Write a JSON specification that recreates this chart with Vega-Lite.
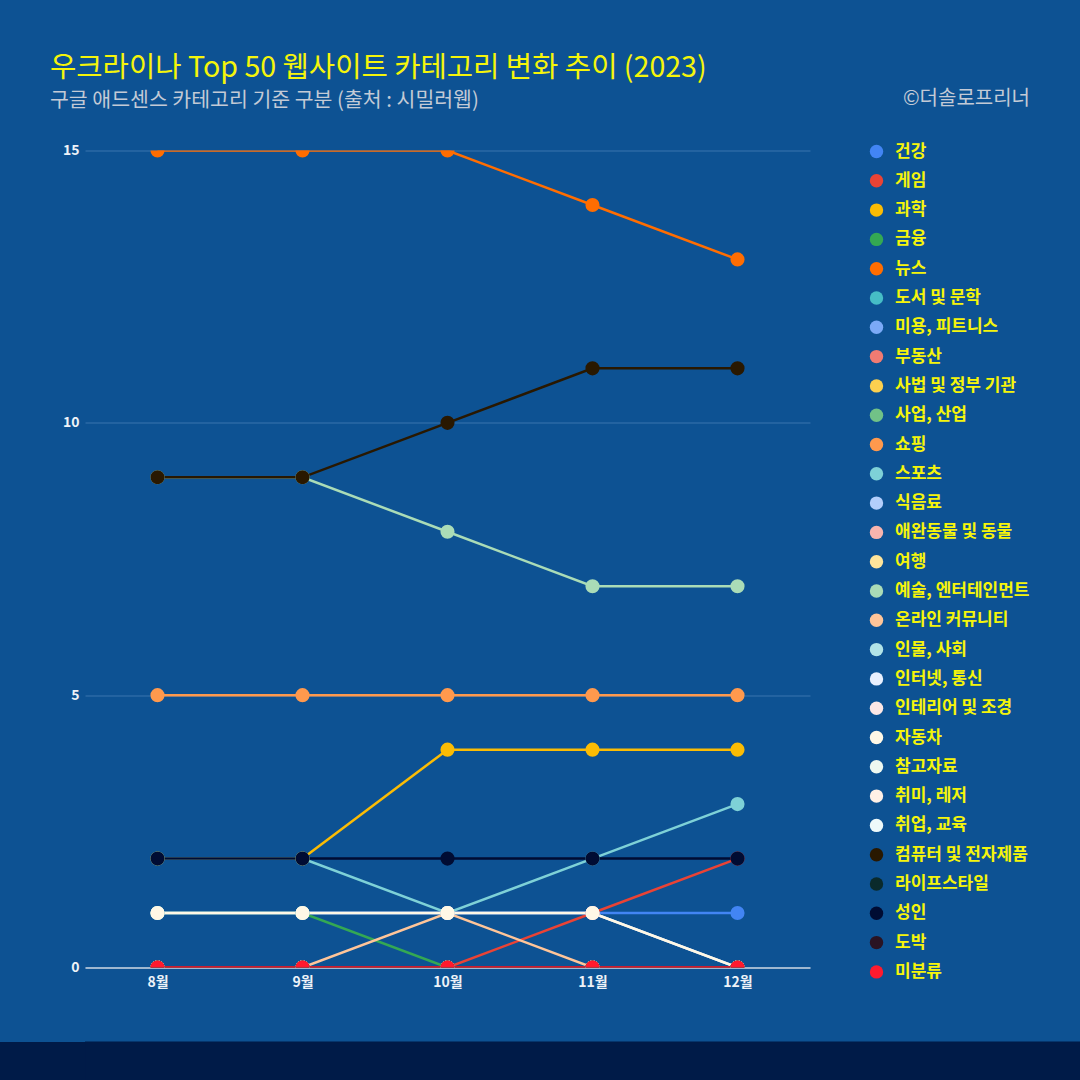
{
  "$schema": "https://vega.github.io/schema/vega-lite/v6.json",
  "background": "#0d5293",
  "padding": {"left": 0, "right": 0, "top": 53.5, "bottom": 0},
  "title": {
    "text": "우크라이나 Top 50 웹사이트 카테고리 변화 추이 (2023)",
    "subtitle": "구글 애드센스 카테고리 기준 구분 (출처 : 시밀러웹)",
    "anchor": "start",
    "frame": "bounds",
    "dx": 50,
    "offset": -22.5,
    "color": "#f5f50a",
    "font": "Noto Sans CJK KR",
    "fontSize": 28.6,
    "fontWeight": "normal",
    "subtitleColor": "#c3cad6",
    "subtitleFont": "Noto Sans CJK KR",
    "subtitleFontSize": 20.5,
    "subtitlePadding": 8
  },
  "columns": 1,
  "align": "none",
  "spacing": 49,
  "data": {"values": [
    {"cat": "건강", "month": "8월", "n": 1}, {"cat": "건강", "month": "9월", "n": 1}, {"cat": "건강", "month": "10월", "n": 1}, {"cat": "건강", "month": "11월", "n": 1}, {"cat": "건강", "month": "12월", "n": 1},
    {"cat": "게임", "month": "8월", "n": 0}, {"cat": "게임", "month": "9월", "n": 0}, {"cat": "게임", "month": "10월", "n": 0}, {"cat": "게임", "month": "11월", "n": 1}, {"cat": "게임", "month": "12월", "n": 2},
    {"cat": "과학", "month": "8월", "n": 2}, {"cat": "과학", "month": "9월", "n": 2}, {"cat": "과학", "month": "10월", "n": 4}, {"cat": "과학", "month": "11월", "n": 4}, {"cat": "과학", "month": "12월", "n": 4},
    {"cat": "금융", "month": "8월", "n": 1}, {"cat": "금융", "month": "9월", "n": 1}, {"cat": "금융", "month": "10월", "n": 0}, {"cat": "금융", "month": "11월", "n": 0}, {"cat": "금융", "month": "12월", "n": 0},
    {"cat": "뉴스", "month": "8월", "n": 15}, {"cat": "뉴스", "month": "9월", "n": 15}, {"cat": "뉴스", "month": "10월", "n": 15}, {"cat": "뉴스", "month": "11월", "n": 14}, {"cat": "뉴스", "month": "12월", "n": 13},
    {"cat": "도서 및 문학", "month": "8월", "n": 0}, {"cat": "도서 및 문학", "month": "9월", "n": 0}, {"cat": "도서 및 문학", "month": "10월", "n": 0}, {"cat": "도서 및 문학", "month": "11월", "n": 0}, {"cat": "도서 및 문학", "month": "12월", "n": 0},
    {"cat": "미용, 피트니스", "month": "8월", "n": 0}, {"cat": "미용, 피트니스", "month": "9월", "n": 0}, {"cat": "미용, 피트니스", "month": "10월", "n": 0}, {"cat": "미용, 피트니스", "month": "11월", "n": 0}, {"cat": "미용, 피트니스", "month": "12월", "n": 0},
    {"cat": "부동산", "month": "8월", "n": 0}, {"cat": "부동산", "month": "9월", "n": 0}, {"cat": "부동산", "month": "10월", "n": 0}, {"cat": "부동산", "month": "11월", "n": 0}, {"cat": "부동산", "month": "12월", "n": 0},
    {"cat": "사법 및 정부 기관", "month": "8월", "n": 0}, {"cat": "사법 및 정부 기관", "month": "9월", "n": 0}, {"cat": "사법 및 정부 기관", "month": "10월", "n": 0}, {"cat": "사법 및 정부 기관", "month": "11월", "n": 0}, {"cat": "사법 및 정부 기관", "month": "12월", "n": 0},
    {"cat": "사업, 산업", "month": "8월", "n": 0}, {"cat": "사업, 산업", "month": "9월", "n": 0}, {"cat": "사업, 산업", "month": "10월", "n": 0}, {"cat": "사업, 산업", "month": "11월", "n": 0}, {"cat": "사업, 산업", "month": "12월", "n": 0},
    {"cat": "쇼핑", "month": "8월", "n": 5}, {"cat": "쇼핑", "month": "9월", "n": 5}, {"cat": "쇼핑", "month": "10월", "n": 5}, {"cat": "쇼핑", "month": "11월", "n": 5}, {"cat": "쇼핑", "month": "12월", "n": 5},
    {"cat": "스포츠", "month": "8월", "n": 2}, {"cat": "스포츠", "month": "9월", "n": 2}, {"cat": "스포츠", "month": "10월", "n": 1}, {"cat": "스포츠", "month": "11월", "n": 2}, {"cat": "스포츠", "month": "12월", "n": 3},
    {"cat": "식음료", "month": "8월", "n": 0}, {"cat": "식음료", "month": "9월", "n": 0}, {"cat": "식음료", "month": "10월", "n": 0}, {"cat": "식음료", "month": "11월", "n": 0}, {"cat": "식음료", "month": "12월", "n": 0},
    {"cat": "애완동물 및 동물", "month": "8월", "n": 0}, {"cat": "애완동물 및 동물", "month": "9월", "n": 0}, {"cat": "애완동물 및 동물", "month": "10월", "n": 0}, {"cat": "애완동물 및 동물", "month": "11월", "n": 0}, {"cat": "애완동물 및 동물", "month": "12월", "n": 0},
    {"cat": "여행", "month": "8월", "n": 0}, {"cat": "여행", "month": "9월", "n": 0}, {"cat": "여행", "month": "10월", "n": 0}, {"cat": "여행", "month": "11월", "n": 0}, {"cat": "여행", "month": "12월", "n": 0},
    {"cat": "예술, 엔터테인먼트", "month": "8월", "n": 9}, {"cat": "예술, 엔터테인먼트", "month": "9월", "n": 9}, {"cat": "예술, 엔터테인먼트", "month": "10월", "n": 8}, {"cat": "예술, 엔터테인먼트", "month": "11월", "n": 7}, {"cat": "예술, 엔터테인먼트", "month": "12월", "n": 7},
    {"cat": "온라인 커뮤니티", "month": "8월", "n": 0}, {"cat": "온라인 커뮤니티", "month": "9월", "n": 0}, {"cat": "온라인 커뮤니티", "month": "10월", "n": 1}, {"cat": "온라인 커뮤니티", "month": "11월", "n": 0}, {"cat": "온라인 커뮤니티", "month": "12월", "n": 0},
    {"cat": "인물, 사회", "month": "8월", "n": 0}, {"cat": "인물, 사회", "month": "9월", "n": 0}, {"cat": "인물, 사회", "month": "10월", "n": 0}, {"cat": "인물, 사회", "month": "11월", "n": 0}, {"cat": "인물, 사회", "month": "12월", "n": 0},
    {"cat": "인터넷, 통신", "month": "8월", "n": 1}, {"cat": "인터넷, 통신", "month": "9월", "n": 1}, {"cat": "인터넷, 통신", "month": "10월", "n": 1}, {"cat": "인터넷, 통신", "month": "11월", "n": 1}, {"cat": "인터넷, 통신", "month": "12월", "n": 0},
    {"cat": "인테리어 및 조경", "month": "8월", "n": 0}, {"cat": "인테리어 및 조경", "month": "9월", "n": 0}, {"cat": "인테리어 및 조경", "month": "10월", "n": 0}, {"cat": "인테리어 및 조경", "month": "11월", "n": 0}, {"cat": "인테리어 및 조경", "month": "12월", "n": 0},
    {"cat": "자동차", "month": "8월", "n": 1}, {"cat": "자동차", "month": "9월", "n": 1}, {"cat": "자동차", "month": "10월", "n": 1}, {"cat": "자동차", "month": "11월", "n": 1}, {"cat": "자동차", "month": "12월", "n": 0},
    {"cat": "참고자료", "month": "8월", "n": 0}, {"cat": "참고자료", "month": "9월", "n": 0}, {"cat": "참고자료", "month": "10월", "n": 0}, {"cat": "참고자료", "month": "11월", "n": 0}, {"cat": "참고자료", "month": "12월", "n": 0},
    {"cat": "취미, 레저", "month": "8월", "n": 0}, {"cat": "취미, 레저", "month": "9월", "n": 0}, {"cat": "취미, 레저", "month": "10월", "n": 0}, {"cat": "취미, 레저", "month": "11월", "n": 0}, {"cat": "취미, 레저", "month": "12월", "n": 0},
    {"cat": "취업, 교육", "month": "8월", "n": 0}, {"cat": "취업, 교육", "month": "9월", "n": 0}, {"cat": "취업, 교육", "month": "10월", "n": 0}, {"cat": "취업, 교육", "month": "11월", "n": 0}, {"cat": "취업, 교육", "month": "12월", "n": 0},
    {"cat": "컴퓨터 및 전자제품", "month": "8월", "n": 9}, {"cat": "컴퓨터 및 전자제품", "month": "9월", "n": 9}, {"cat": "컴퓨터 및 전자제품", "month": "10월", "n": 10}, {"cat": "컴퓨터 및 전자제품", "month": "11월", "n": 11}, {"cat": "컴퓨터 및 전자제품", "month": "12월", "n": 11},
    {"cat": "라이프스타일", "month": "8월", "n": 0}, {"cat": "라이프스타일", "month": "9월", "n": 0}, {"cat": "라이프스타일", "month": "10월", "n": 0}, {"cat": "라이프스타일", "month": "11월", "n": 0}, {"cat": "라이프스타일", "month": "12월", "n": 0},
    {"cat": "성인", "month": "8월", "n": 2}, {"cat": "성인", "month": "9월", "n": 2}, {"cat": "성인", "month": "10월", "n": 2}, {"cat": "성인", "month": "11월", "n": 2}, {"cat": "성인", "month": "12월", "n": 2},
    {"cat": "도박", "month": "8월", "n": 0}, {"cat": "도박", "month": "9월", "n": 0}, {"cat": "도박", "month": "10월", "n": 0}, {"cat": "도박", "month": "11월", "n": 0}, {"cat": "도박", "month": "12월", "n": 0},
    {"cat": "미분류", "month": "8월", "n": 0}, {"cat": "미분류", "month": "9월", "n": 0}, {"cat": "미분류", "month": "10월", "n": 0}, {"cat": "미분류", "month": "11월", "n": 0}, {"cat": "미분류", "month": "12월", "n": 0}
  ]},
  "concat": [
    {
      "width": 725,
      "height": 817,
      "encoding": {
        "x": {
          "field": "month", "type": "ordinal",
          "sort": ["8월", "9월", "10월", "11월", "12월"],
          "scale": {"type": "point", "padding": 0.5},
          "axis": {"title": null, "labelAngle": 0, "ticks": false, "grid": false, "domain": true, "domainColor": "#c9d3e0", "domainWidth": 1.5, "labelColor": "#eef2f8", "labelFont": "Noto Sans CJK KR", "labelFontSize": 14, "labelFontWeight": "bold", "labelPadding": 8}
        },
        "y": {
          "field": "n", "type": "quantitative",
          "scale": {"domain": [0, 15], "nice": false},
          "axis": {"title": null, "values": [0, 5, 10, 15], "ticks": false, "domain": false, "grid": true, "gridColor": "#3a74ae", "gridWidth": 1, "labelColor": "#eef2f8", "labelFont": "Noto Sans CJK KR", "labelFontSize": 14, "labelFontWeight": "bold", "labelPadding": 6, "minExtent": 85}
        },
        "color": {
          "field": "cat", "type": "nominal",
          "scale": {
            "domain": ["건강", "게임", "과학", "금융", "뉴스", "도서 및 문학", "미용, 피트니스", "부동산", "사법 및 정부 기관", "사업, 산업", "쇼핑", "스포츠", "식음료", "애완동물 및 동물", "여행", "예술, 엔터테인먼트", "온라인 커뮤니티", "인물, 사회", "인터넷, 통신", "인테리어 및 조경", "자동차", "참고자료", "취미, 레저", "취업, 교육", "컴퓨터 및 전자제품", "라이프스타일", "성인", "도박", "미분류"],
            "range": ["#4285f4", "#ea4335", "#fbbc04", "#34a853", "#ff6d01", "#46bdc6", "#7baaf7", "#f07b72", "#fcd04f", "#71c287", "#ff994d", "#7ed1d7", "#b3cefb", "#f7b4ae", "#fde49b", "#aadcb7", "#ffc599", "#b1e3e7", "#e8f0fe", "#fde8e6", "#fff8e6", "#eef8f0", "#fff0e6", "#eef9fa", "#291800", "#0a2a2b", "#000c33", "#2a1322", "#ff1a2e"]
          },
          "legend": {
            "orient": "none", "legendX": 783, "legendY": -62,
            "title": "©더솔로프리너", "titleColor": "#c3cad6", "titleFont": "Noto Sans CJK KR", "titleFontSize": 20, "titleFontWeight": "normal", "titleAnchor": "end", "titlePadding": 34.5,
            "labelColor": "#f5f50a", "labelFont": "Noto Sans CJK KR", "labelFontSize": 17, "labelFontWeight": "bold", "labelOffset": 10, "labelLimit": 300,
            "symbolType": "circle", "symbolSize": 180, "symbolStrokeWidth": 0, "symbolOpacity": 1, "rowPadding": 11.3, "padding": 0
          }
        }
      },
      "layer": [
        {"mark": {"type": "line", "strokeWidth": 2.5, "clip": true}},
        {"mark": {"type": "point", "filled": true, "opacity": 1, "size": 200, "clip": true}}
      ]
    },
    {
      "width": 1080,
      "height": 44,
      "view": {"fill": "#001b48", "stroke": null},
      "data": {"values": [{"v": 0}, {"v": 1}]},
      "mark": {"type": "point", "opacity": 0},
      "encoding": {
        "y": {
          "field": "v", "type": "quantitative",
          "axis": {"title": null, "labels": false, "ticks": false, "grid": false, "domain": true, "domainColor": "#001b48", "domainWidth": 86, "offset": 43}
        }
      }
    }
  ],
  "config": {"view": {"stroke": null}, "font": "Noto Sans CJK KR"}
}
